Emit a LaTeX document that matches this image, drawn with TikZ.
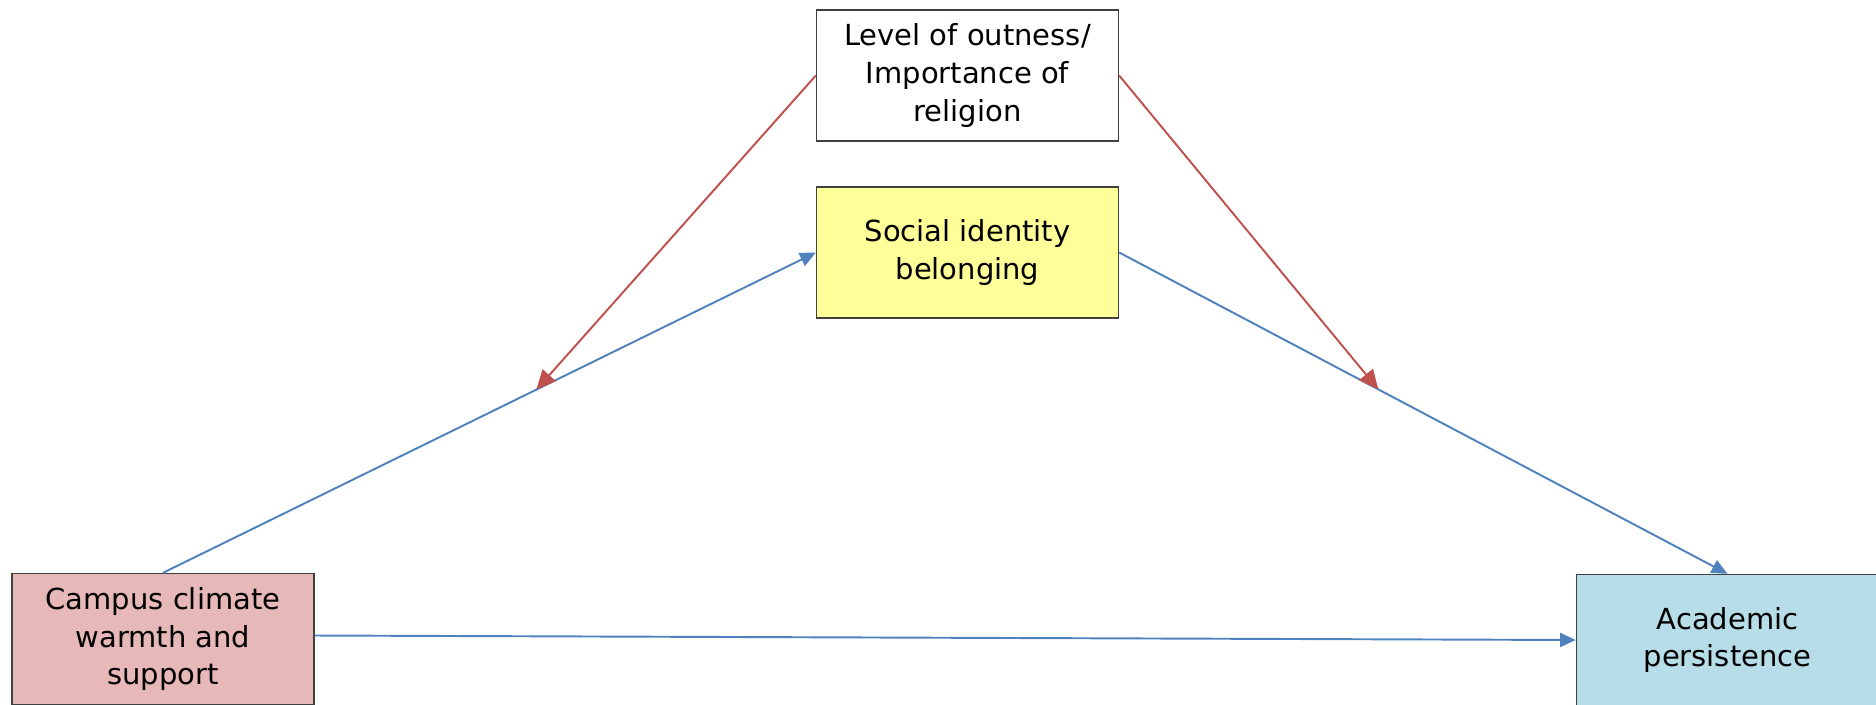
\documentclass[tikz,border=0pt]{standalone}
\usepackage{fontspec}
\setmainfont{DejaVu Sans}
\usetikzlibrary{arrows.meta}
\definecolor{climatefill}{HTML}{E6B8B7}
\definecolor{persistfill}{HTML}{B7DDE8}
\definecolor{belongfill}{HTML}{FFFF99}
\definecolor{pathblue}{HTML}{4F81BD}
\definecolor{modred}{HTML}{C0504D}
\tikzset{
  box/.style={draw=black!75,line width=.8pt,align=center,inner sep=0pt,
    minimum width=6.04cm,minimum height=2.62cm,
    font=\fontsize{16.5}{21.5}\selectfont},
  bluearrow/.style={draw=pathblue,line width=1.1pt,
    -{Triangle[length=9pt,width=8pt]}},
  redarrow/.style={draw=modred,line width=1.1pt,
    -{Triangle[length=11pt,width=10pt]}}
}
\begin{document}
\begin{tikzpicture}[x=0.02cm,y=-0.02cm]
\useasboundingbox (0,0) rectangle (1876,704);
\clip (0,0) rectangle (1876,704);
\node[box] (outness) at (967.5,75.5) {Level of outness/\\Importance of\\religion};
\node[box,fill=belongfill] (belong) at (967.5,252.5) {Social identity\\belonging};
\node[box,fill=climatefill] (climate) at (163,639) {Campus climate\\warmth and\\support};
\node[box,fill=persistfill] (persist) at (1727.5,640) {Academic\\persistence};
\draw[bluearrow] (climate.north) -- coordinate[pos=0.572] (modleft) (belong.west);
\draw[bluearrow] (belong.east) -- coordinate[pos=0.426] (modright) (persist.north);
\draw[bluearrow] ([yshift=0.07cm]climate.east) -- (persist.west);
\draw[redarrow] (outness.west) -- (modleft);
\draw[redarrow] (outness.east) -- (modright);
\end{tikzpicture}
\end{document}
